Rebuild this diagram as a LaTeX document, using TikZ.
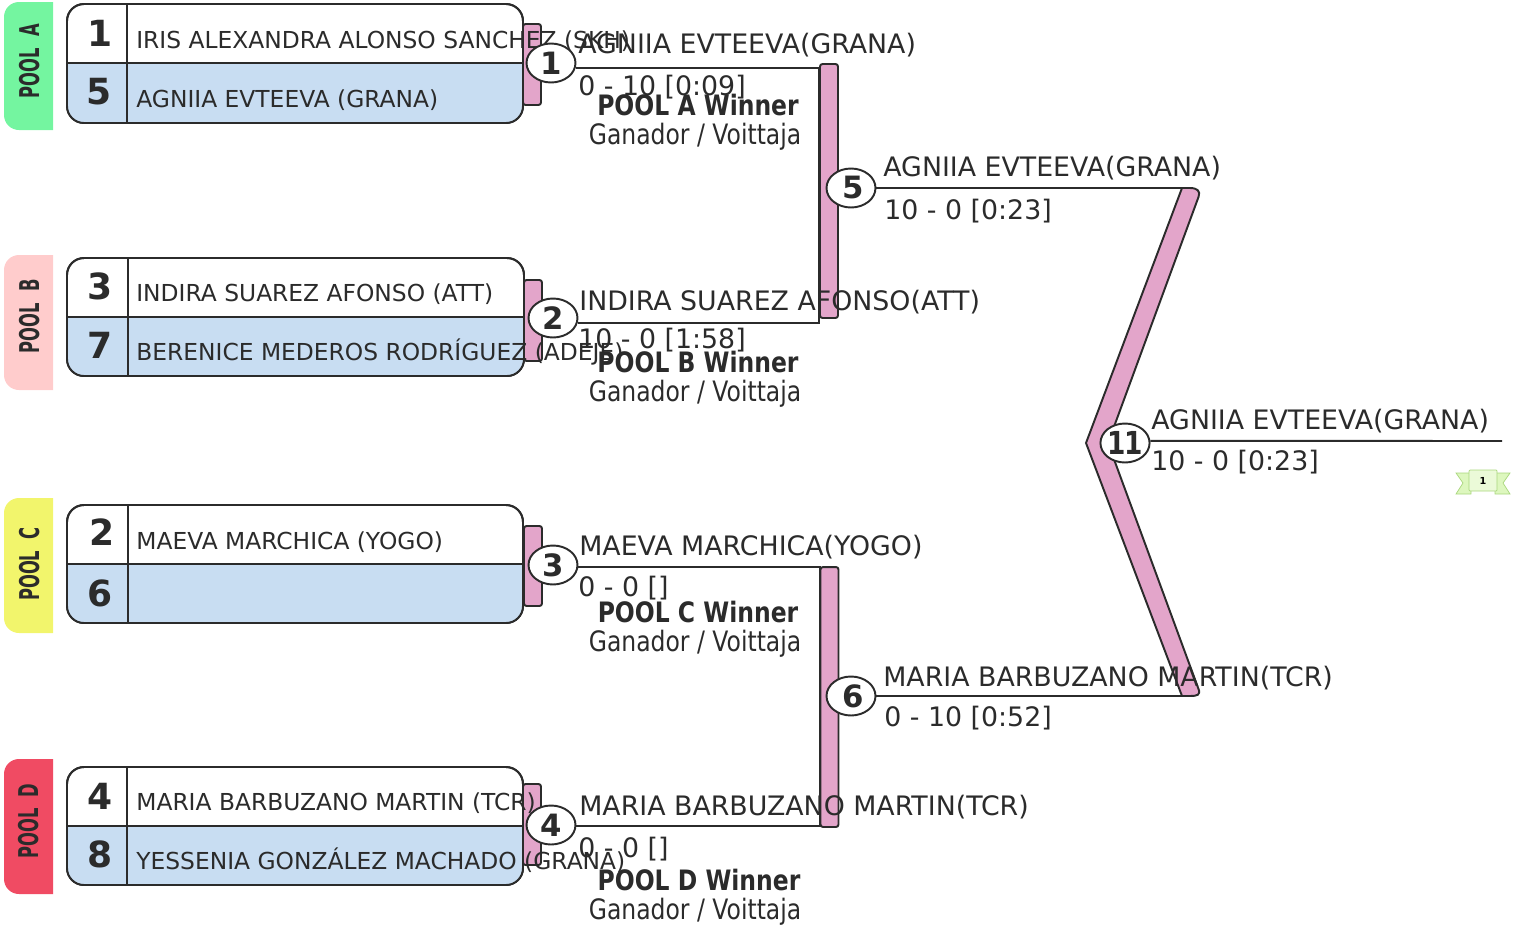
\documentclass[tikz,border=0pt]{standalone}
\usepackage{fontspec}
\setmainfont{DejaVu Sans}
\newfontfamily\narrowfont[FakeStretch=0.835]{DejaVu Sans}
\newfontfamily\poolfont[FakeStretch=0.6]{DejaVu Sans}
\usetikzlibrary{shapes.geometric}
\definecolor{ink}{HTML}{2B2B2B}
\definecolor{poola}{HTML}{74F5A0}
\definecolor{poolb}{HTML}{FFCCCC}
\definecolor{poolc}{HTML}{F2F56C}
\definecolor{poold}{HTML}{F04B63}
\definecolor{seedblue}{HTML}{C8DDF2}
\definecolor{barpink}{HTML}{E3A5CA}
\definecolor{ribbonfill}{HTML}{DDF7BE}
\definecolor{ribbonline}{HTML}{A9D67C}
\tikzset{
  wire/.style={draw=ink,line width=1.1pt},
  seedbox/.style={draw=ink,line width=1.1pt,rounded corners=.34cm,fill=white},
  seedlow/.style={fill=seedblue},
  matchbar/.style={draw=ink,line width=1.1pt,fill=barpink,rounded corners=.05cm,minimum width=.36cm,inner sep=0pt},
  matchball/.style={ellipse,draw=ink,line width=1.1pt,fill=white,minimum width=.98cm,minimum height=.78cm,inner sep=0pt,text=ink,font=\fontsize{17.5}{17.5}\selectfont\bfseries},
  seednum/.style={anchor=base,inner sep=0pt,text=ink,font=\fontsize{20.5}{20.5}\selectfont\bfseries},
  seedname/.style={anchor=base west,inner sep=0pt,text=ink,font=\fontsize{13.3}{13.3}\selectfont},
  result/.style={anchor=base west,inner sep=0pt,text=ink,font=\fontsize{15.25}{15.25}\selectfont},
  poolwin/.style={anchor=base,inner sep=0pt,text=ink,font=\fontsize{16}{16}\narrowfont\bfseries},
  poolsub/.style={anchor=base,inner sep=0pt,text=ink,font=\fontsize{16}{16}\narrowfont},
  poolname/.style={rotate=90,inner sep=0pt,text=ink,font=\fontsize{15.5}{15.5}\poolfont\bfseries}
}
\begin{document}
\begin{tikzpicture}[x=0.02cm,y=-0.02cm]
\useasboundingbox (0,0) rectangle (1514,927);

\fill[poola] (53,2) [rounded corners=.3cm] -- (4,2) -- (4,130) [sharp corners] -- (53,130) -- cycle;
\fill[poolb] (53,255) [rounded corners=.3cm] -- (4,255) -- (4,390) [sharp corners] -- (53,390) -- cycle;
\fill[poolc] (53,498) [rounded corners=.3cm] -- (4,498) -- (4,633) [sharp corners] -- (53,633) -- cycle;
\fill[poold] (53,759) [rounded corners=.3cm] -- (4,759) -- (4,894) [sharp corners] -- (53,894) -- cycle;
\node[poolname] (poolA) at (30,61) {POOL\ \ A};
\node[poolname] (poolB) at (30,316) {POOL\ \ B};
\node[poolname] (poolC) at (30,564) {POOL\ \ C};
\node[poolname] (poolD) at (29,821) {POOL\ \ D};

\node[matchbar,minimum height=1.62cm] (bar1) at (532,64.5) {};
\node[matchbar,minimum height=1.62cm] (bar2) at (533,320.5) {};
\node[matchbar,minimum height=1.6cm] (bar3) at (533,566) {};
\node[matchbar,minimum height=1.62cm] (bar4) at (532,824.5) {};
\node[matchbar,minimum height=5.08cm] (bar5) at (829,191) {};
\node[matchbar,minimum height=5.2cm] (bar6) at (829.5,697) {};

\draw[seedbox] (67,4) rectangle (523,123);
\fill[seedlow] (67,63) -- (523,63) [rounded corners=.34cm] -- (523,123) -- (67,123) [sharp corners] -- cycle;
\draw[seedbox,fill=none] (67,4) rectangle (523,123);
\draw[wire] (67,63) -- (523,63);
\draw[wire] (127,4) -- (127,123);

\draw[seedbox] (67,258) rectangle (524,376);
\fill[seedlow] (67,317) -- (524,317) [rounded corners=.34cm] -- (524,376) -- (67,376) [sharp corners] -- cycle;
\draw[seedbox,fill=none] (67,258) rectangle (524,376);
\draw[wire] (67,317) -- (524,317);
\draw[wire] (128,258) -- (128,376);

\draw[seedbox] (67,505) rectangle (523,623);
\fill[seedlow] (67,564) -- (523,564) [rounded corners=.34cm] -- (523,623) -- (67,623) [sharp corners] -- cycle;
\draw[seedbox,fill=none] (67,505) rectangle (523,623);
\draw[wire] (67,564) -- (523,564);
\draw[wire] (128,505) -- (128,623);

\draw[seedbox] (67,767) rectangle (523,885);
\fill[seedlow] (67,826) -- (523,826) [rounded corners=.34cm] -- (523,885) -- (67,885) [sharp corners] -- cycle;
\draw[seedbox,fill=none] (67,767) rectangle (523,885);
\draw[wire] (67,826) -- (523,826);
\draw[wire] (127,767) -- (127,885);

\node[seednum] (seed1) at (100,46) {1};
\node[seednum] (seed5) at (99,104) {5};
\node[seednum] (seed3) at (100,299) {3};
\node[seednum] (seed7) at (100,358) {7};
\node[seednum] (seed2) at (102,545) {2};
\node[seednum] (seed6) at (100,606) {6};
\node[seednum] (seed4) at (100,809) {4};
\node[seednum] (seed8) at (100,867) {8};

\node[seedname] (name1) at (136,48) {IRIS ALEXANDRA ALONSO SANCHEZ (SKH)};
\node[seedname] (name5) at (136,107) {AGNIIA EVTEEVA (GRANA)};
\node[seedname] (name3) at (136,301) {INDIRA SUAREZ AFONSO (ATT)};
\node[seedname] (name7) at (136,360) {BERENICE MEDEROS RODRÍGUEZ (ADEJE)};
\node[seedname] (name2) at (136,549) {MAEVA MARCHICA (YOGO)};
\node[seedname] (name4) at (136,810) {MARIA BARBUZANO MARTIN (TCR)};
\node[seedname] (name8) at (136,869) {YESSENIA GONZÁLEZ MACHADO (GRANA)};

\filldraw[fill=barpink,draw=ink,line width=1.1pt] (1182,188) -- (1190,188) .. controls (1197,188) and (1201,191) .. (1198.5,197) -- (1108,443) -- (1198.5,689) .. controls (1201,695) and (1197,696) .. (1190,696) -- (1182,696) -- (1086,443) -- cycle;
\coordinate (chevtop) at (1184,188);
\coordinate (chevbot) at (1184,696);
\coordinate (champ) at (1502,441);

\node[matchball] (m1) at (551,63) {1};
\node[matchball] (m2) at (553,318) {2};
\node[matchball] (m3) at (553,565) {3};
\node[matchball] (m4) at (551,825) {4};
\node[matchball] (m5) at (851,188) {\kern.08cm 5};
\node[matchball] (m6) at (851,696) {\kern.08cm 6};
\node[matchball] (m11) at (1125,443) {\fontsize{18}{18}\narrowfont\bfseries 1\kern-.04cm 1};

\draw[wire] (m1.-12) -- (m1.-12 -| bar5.west) -- (m2.-12 -| bar5.west) -- (m2.-12);
\draw[wire] (m3.-5) -- (m3.-5 -| bar6.west) -- (m4.-3 -| bar6.west) -- (m4.-3);
\draw[wire] (m5.east) -- (chevtop);
\draw[wire] (m6.east) -- (chevbot);
\draw[wire] (m11.5) -- (champ);

\node[result] (win1) at (578,53) {AGNIIA EVTEEVA(GRANA)};
\node[result] (score1) at (578,95) {0 - 10 [0:09]};
\node[result] (win2) at (579,310) {INDIRA SUAREZ AFONSO(ATT)};
\node[result] (score2) at (578,348) {10 - 0 [1:58]};
\node[result] (win3) at (579,555) {MAEVA MARCHICA(YOGO)};
\node[result] (score3) at (578,596) {0 - 0 []};
\node[result] (win4) at (579,815) {MARIA BARBUZANO MARTIN(TCR)};
\node[result] (score4) at (578,857) {0 - 0 []};
\node[result] (win5) at (883,176) {AGNIIA EVTEEVA(GRANA)};
\node[result] (score5) at (884,219) {10 - 0 [0:23]};
\node[result] (win6) at (883,686) {MARIA BARBUZANO MARTIN(TCR)};
\node[result] (score6) at (884,726) {0 - 10 [0:52]};
\node[result] (win11) at (1151,429) {AGNIIA EVTEEVA(GRANA)};
\node[result] (score11) at (1151,470) {10 - 0 [0:23]};

\node[poolwin] (winA) at (698,115) {POOL A Winner};
\node[poolsub] (subA) at (695,144) {Ganador / Voittaja};
\node[poolwin] (winB) at (698,372) {POOL B Winner};
\node[poolsub] (subB) at (695,401) {Ganador / Voittaja};
\node[poolwin] (winC) at (698,622) {POOL C Winner};
\node[poolsub] (subC) at (695,651) {Ganador / Voittaja};
\node[poolwin] (winD) at (699,890) {POOL D Winner};
\node[poolsub] (subD) at (695,919) {Ganador / Voittaja};

\filldraw[fill=ribbonfill,draw=ribbonline,line width=.4pt] (1456,473) -- (1471,473) -- (1471,494) -- (1456,494) -- (1463,483) -- cycle;
\filldraw[fill=ribbonfill,draw=ribbonline,line width=.4pt] (1510,473) -- (1495,473) -- (1495,494) -- (1510,494) -- (1503,483) -- cycle;
\filldraw[fill=ribbonfill!60,draw=ribbonline,line width=.4pt,rounded corners=.02cm] (1469,470) rectangle (1497,491);
\node[inner sep=0pt,text=black,font=\fontsize{5.5}{5.5}\selectfont\bfseries] (medal) at (1483,480.5) {1};
\end{tikzpicture}
\end{document}
